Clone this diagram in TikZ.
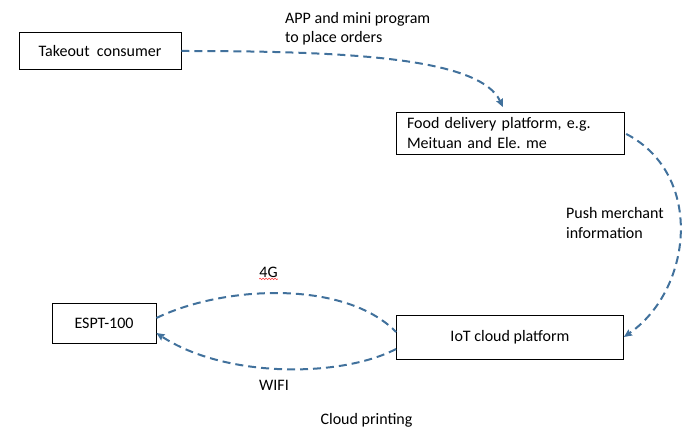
\documentclass[tikz,border=0pt]{standalone}
\usepackage{fontspec}
\setmainfont{Carlito}
\usetikzlibrary{arrows.meta,decorations.pathmorphing}
\definecolor{flowblue}{RGB}{65,113,156}
\tikzset{
  box/.style={draw, line width=0.8pt, inner sep=0pt},
  flow/.style={draw=flowblue, line width=2pt, dash pattern=on 8pt off 5pt},
  tip/.style={-{Stealth[length=8pt,width=7pt,inset=1pt]}},
  lbl/.style={inner sep=0pt, align=left}
}
\frenchspacing
\begin{document}
\begin{tikzpicture}[x=1pt,y=-1pt,font=\fontsize{16}{19.5}\selectfont]
\useasboundingbox (0,0) rectangle (691,443);

\node[box, minimum width=162pt, minimum height=37pt] (consumer) at (100,51) {Takeout\ \ consumer};
\node[box, minimum width=228pt, minimum height=42pt, text width=206pt, align=left] (platform) at (510,133)
  {Food delivery platform, e.g.\\Meituan and Ele. me};
\node[box, minimum width=227pt, minimum height=44pt] (iot) at (510,337) {IoT cloud platform};
\node[box, minimum width=104pt, minimum height=40pt] (espt) at (104,323) {ESPT-100};

% order and push
\draw[flow, tip, shorten >=5pt] (consumer.east) .. controls (350,51) and (480,58) .. ([xshift=-5pt]platform.north);
\draw[flow, tip, shorten <=2pt] (platform.east) .. controls (705,175) and (692,290) .. (iot.east);

% 4G / WIFI
\draw[flow] ([yshift=5pt]espt.east) .. controls (225,285) and (345,280) .. ([yshift=5pt]iot.west);
\draw[flow, tip] ([yshift=-12pt]iot.west) .. controls (340,378) and (225,378) .. ([yshift=-10pt]espt.east);

\node[lbl, anchor=west] (order) at (285,28.5) {APP and mini program\\to place orders};
\node[lbl, anchor=west] (push) at (566,223) {Push merchant\\information};
\node[lbl] (g4) at (268.5,272) {4G};
\draw[red!80, line width=0.5pt, decorate, decoration={snake, amplitude=0.8pt, segment length=3pt}]
  ([yshift=-1.5pt]g4.south west) -- ([yshift=-1.5pt]g4.south east);
\node[lbl] (wifi) at (274,385) {WIFI};
\node[lbl] (cloud) at (366.5,420) {Cloud printing};
\end{tikzpicture}
\end{document}
